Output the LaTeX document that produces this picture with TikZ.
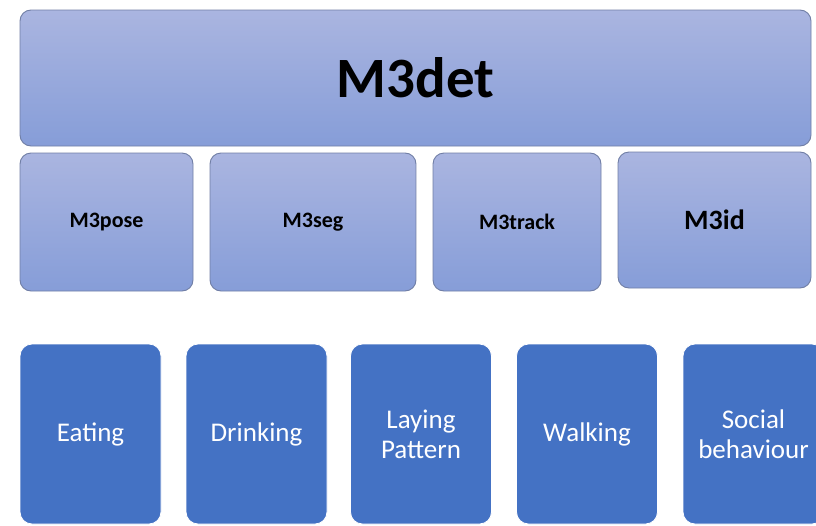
\documentclass[tikz,border=0pt]{standalone}
\usepackage{fontspec}
\setmainfont{Carlito}
\definecolor{topA}{RGB}{170,181,224}
\definecolor{topB}{RGB}{134,157,216}
\definecolor{edgeA}{RGB}{112,126,165}
\definecolor{darkbox}{RGB}{68,114,196}
\tikzset{
  upbox/.style={draw=edgeA, line width=0.9pt, rounded corners=11pt, top color=topA, bottom color=topB, inner sep=0pt, text=black, font=\bfseries},
  actbox/.style={draw=white, line width=0.8pt, rounded corners=12pt, fill=darkbox, inner sep=0pt, text=white, align=center, font=\fontsize{27}{30}\selectfont},
}
\begin{document}
\begin{tikzpicture}[x=1pt,y=-1pt]
\useasboundingbox (0,0) rectangle (816,525);
\clip (0,0) rectangle (816,525);
% top
\node[upbox, minimum width=791pt, minimum height=136pt, font=\bfseries\fontsize{57}{62}\selectfont] (det) at (415.5,78) {M3det};
% second row
\node[upbox, minimum width=173pt, minimum height=138pt, font=\bfseries\fontsize{22}{26}\selectfont] (pose) at (106.5,222) {M3pose};
\node[upbox, minimum width=206pt, minimum height=138pt, font=\bfseries\fontsize{22}{26}\selectfont] (seg) at (313,222) {M3seg};
\node[upbox, minimum width=168pt, minimum height=138pt, font=\bfseries\fontsize{22}{26}\selectfont] (track) at (517,222) {M3track};
\node[upbox, minimum width=193pt, minimum height=136pt, font=\bfseries\fontsize{28}{32}\selectfont] (id) at (714.5,220) {M3id};
% bottom row
\node[actbox, minimum width=141pt, minimum height=180pt] (eat) at (90.5,434) {Eating};
\node[actbox, minimum width=141pt, minimum height=180pt] (drink) at (256.5,434) {Drinking};
\node[actbox, minimum width=141pt, minimum height=180pt] (lay) at (421,434) {Laying\\Pattern};
\node[actbox, minimum width=141pt, minimum height=180pt] (walk) at (587,434) {Walking};
\node[actbox, minimum width=141pt, minimum height=180pt] (soc) at (753.5,434) {Social\\behaviour};
\end{tikzpicture}
\end{document}
